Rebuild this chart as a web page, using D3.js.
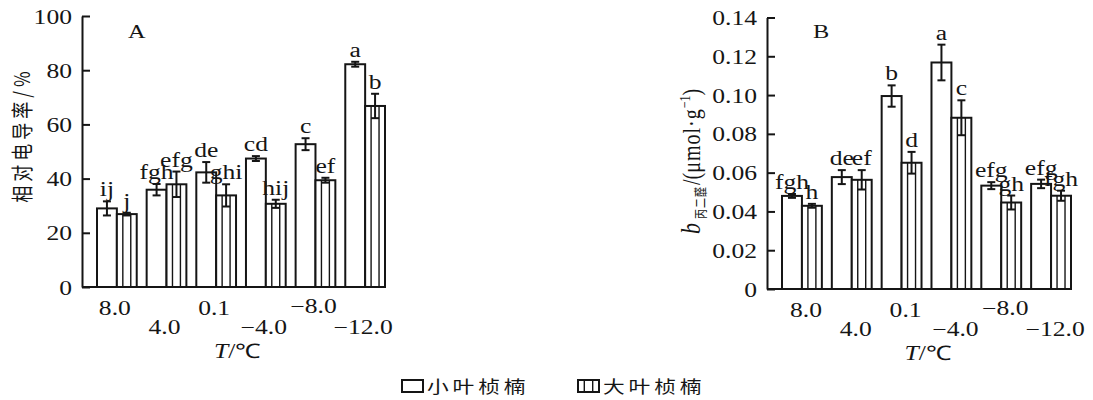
<!DOCTYPE html>
<meta charset="utf-8">
<script src="https://d3js.org/d3.v7.min.js"></script>
<style>
  body { margin: 0; background: #fff; }
  svg { display: block; }
  .serif { font-family: 'Liberation Serif', 'Times New Roman', serif; }
  .cjk { font-family: 'Noto Sans CJK SC', sans-serif; }
</style>
<body>
<div id="my_dataviz"></div>
<script>

// categories
var temps = ["8.0", "4.0", "0.1", "\u22124.0", "\u22128.0", "\u221212.0"];
var speciesNames = ["小叶桢楠", "大叶桢楠"];

// panel A : relative conductivity (%)
var condSmall    = [29.0, 35.9, 42.3, 47.4, 52.7, 82.2];
var condSmallErr = [2.6, 2.1, 3.8, 0.9, 2.2, 0.9];
var condSmallSig = ["ij", "fgh", "de", "cd", "c", "a"];
var condLarge    = [26.9, 37.9, 33.8, 30.7, 39.4, 66.8];
var condLargeErr = [0.5, 4.7, 4.1, 1.5, 0.9, 4.5];
var condLargeSig = ["j", "efg", "ghi", "hij", "ef", "b"];
var condTicks    = [0, 20, 40, 60, 80, 100];

// panel B : MDA content (umol/g)
var mdaSmall    = [0.0480, 0.0577, 0.0995, 0.1168, 0.0533, 0.0542];
var mdaSmallErr = [0.0010, 0.0036, 0.0055, 0.0092, 0.0018, 0.0022];
var mdaSmallSig = ["fgh", "de", "b", "a", "efg", "efg"];
var mdaLarge    = [0.0429, 0.0563, 0.0651, 0.0883, 0.0446, 0.0481];
var mdaLargeErr = [0.0010, 0.0050, 0.0056, 0.0090, 0.0036, 0.0026];
var mdaLargeSig = ["h", "ef", "d", "c", "gh", "fgh"];
var mdaTicks    = [0, 0.02, 0.04, 0.06, 0.08, 0.10, 0.12, 0.14];

var INK = "#151515";
var SX = 1.28;   // the source figure is a bit stretched sideways

var svg = d3.select("#my_dataviz")
  .append("svg")
    .attr("width", 1093)
    .attr("height", 400);

function place(sel, x, y, rot) {
  sel.attr("transform", "translate(" + x + "," + y + ") scale(" + SX + ",1)" + (rot ? " rotate(-90)" : ""));
  return sel;
}

function drawPanel(opt) {
  var g = svg.append("g");

  var x = d3.scaleBand()
    .domain(temps)
    .range([opt.left + 15, opt.right])
    .paddingInner(0.2);
  var sub = d3.scaleBand()
    .domain([0, 1])
    .range([0, x.bandwidth()]);
  var y = d3.scaleLinear()
    .domain([0, opt.max])
    .range([opt.bottom, opt.top]);

  opt.series.forEach(function(s, si) {
    var bars = g.append("g");
    temps.forEach(function(t, i) {
      var x0 = x(t) + sub(si), w = sub.bandwidth(), v = s.vals[i], e = s.errs[i];
      var cx = x0 + w / 2;
      bars.append("rect")
        .attr("x", x0).attr("y", y(v))
        .attr("width", w).attr("height", y(0) - y(v))
        .attr("fill", "#fff").attr("stroke", INK).attr("stroke-width", 2);
      if (s.hatched) {
        [0.3, 0.7].forEach(function(f) {
          bars.append("line")
            .attr("x1", x0 + w * f).attr("x2", x0 + w * f)
            .attr("y1", y(v)).attr("y2", y(0))
            .attr("stroke", INK).attr("stroke-width", 1.4);
        });
      }
      // error bar
      bars.append("line")
        .attr("x1", cx).attr("x2", cx)
        .attr("y1", y(v - e)).attr("y2", y(v + e))
        .attr("stroke", INK).attr("stroke-width", 2);
      [v - e, v + e].forEach(function(c) {
        bars.append("line")
          .attr("x1", cx - 4).attr("x2", cx + 4)
          .attr("y1", y(c)).attr("y2", y(c))
          .attr("stroke", INK).attr("stroke-width", 2);
      });
      // significance letters
      place(bars.append("text"), cx, y(v + e) - 5)
        .attr("class", "serif")
        .attr("text-anchor", "middle")
        .style("font-size", "20px")
        .attr("fill", INK)
        .text(s.sigs[i]);
    });
  });

  // y axis, ticks pointing inward
  var ya = g.append("g")
    .attr("transform", "translate(" + opt.left + ",0)")
    .call(d3.axisLeft(y).tickValues(opt.ticks).tickSizeInner(-8).tickSizeOuter(0).tickPadding(10).tickFormat(opt.fmt));
  ya.select(".domain").attr("stroke", INK).attr("stroke-width", 2);
  ya.selectAll(".tick line").attr("stroke", INK).attr("stroke-width", 2);
  ya.selectAll(".tick text")
    .attr("class", "serif")
    .attr("x", null).attr("dy", null)
    .attr("transform", "translate(-10,7) scale(" + SX + ",1)")
    .attr("fill", INK)
    .style("font-size", "20px")
    .attr("font-family", null);

  // x baseline
  g.append("line")
    .attr("x1", opt.left).attr("x2", opt.right)
    .attr("y1", y(0)).attr("y2", y(0))
    .attr("stroke", INK).attr("stroke-width", 2);

  // staggered x labels
  temps.forEach(function(t, i) {
    place(g.append("text"), x(t) + x.bandwidth() / 2 + opt.labelDx, y(0) + (i % 2 ? 47 : 28) - (i == 4 ? 2 : 0))
      .attr("class", "serif")
      .attr("text-anchor", "middle")
      .style("font-size", "20px")
      .attr("fill", INK)
      .text(t);
  });

  var tl = place(g.append("text"), (opt.left + opt.right) / 2 + opt.titleDx, y(0) + 71)
    .attr("class", "serif")
    .attr("text-anchor", "middle")
    .style("font-size", "20px")
    .attr("fill", INK);
  tl.append("tspan").style("font-style", "italic").text("T");
  tl.append("tspan").text("/\u2103");

  place(g.append("text"), opt.left + 46, 38)
    .attr("class", "serif")
    .style("font-size", "19px")
    .attr("fill", INK)
    .text(opt.name);

  return g;
}

drawPanel({
  name: "A", left: 82, right: 385, top: 16, bottom: 287, max: 100,
  ticks: condTicks, fmt: d3.format("d"), labelDx: -2, titleDx: 4,
  series: [
    {vals: condSmall, errs: condSmallErr, sigs: condSmallSig, hatched: false},
    {vals: condLarge, errs: condLargeErr, sigs: condLargeSig, hatched: true}
  ]
});

drawPanel({
  name: "B", left: 767, right: 1071, top: 17.5, bottom: 289, max: 0.14,
  ticks: mdaTicks, fmt: function(d) { return d === 0 ? "0" : d3.format(".2f")(d); },
  labelDx: 4, titleDx: 9,
  series: [
    {vals: mdaSmall, errs: mdaSmallErr, sigs: mdaSmallSig, hatched: false},
    {vals: mdaLarge, errs: mdaLargeErr, sigs: mdaLargeSig, hatched: true}
  ]
});

// y titles
place(svg.append("text"), 30, 135, true)
  .attr("class", "cjk")
  .attr("text-anchor", "middle")
  .style("font-size", "17px")
  .style("letter-spacing", "4px")
  .attr("fill", INK)
  .text("相对电导率/%");

var yb = place(svg.append("text"), 700, 234, true)
  .attr("class", "serif")
  .attr("text-anchor", "start")
  .style("font-size", "20px")
  .attr("fill", INK);
yb.append("tspan").style("font-style", "italic").style("font-size", "22px").text("b");
yb.append("tspan").attr("class", "cjk").attr("dx", 4).attr("dy", 4).style("font-size", "10px").style("letter-spacing", "1px").text("丙二醛");
yb.append("tspan").attr("dx", 1).attr("dy", -4).text("/(");
yb.append("tspan").style("letter-spacing", "1px").text("\u03bcmol\u00b7g");
yb.append("tspan").attr("dy", -8).style("font-size", "12px").text("\u22121");
yb.append("tspan").attr("dy", 8).text(")");

// legend
var legend = svg.append("g");
speciesNames.forEach(function(name, i) {
  var lx = 402 + i * 176;
  legend.append("rect")
    .attr("x", lx).attr("y", 380).attr("width", 21).attr("height", 12)
    .attr("fill", "#fff").attr("stroke", INK).attr("stroke-width", 2);
  if (i == 1) {
    [0.3, 0.7].forEach(function(f) {
      legend.append("line")
        .attr("x1", lx + 21 * f).attr("x2", lx + 21 * f)
        .attr("y1", 380).attr("y2", 392)
        .attr("stroke", INK).attr("stroke-width", 1.4);
    });
  }
  place(legend.append("text"), lx + 25, 393)
    .attr("class", "cjk")
    .style("font-size", "17px")
    .style("letter-spacing", "3px")
    .attr("fill", INK)
    .text(name);
});

</script>
</body>
